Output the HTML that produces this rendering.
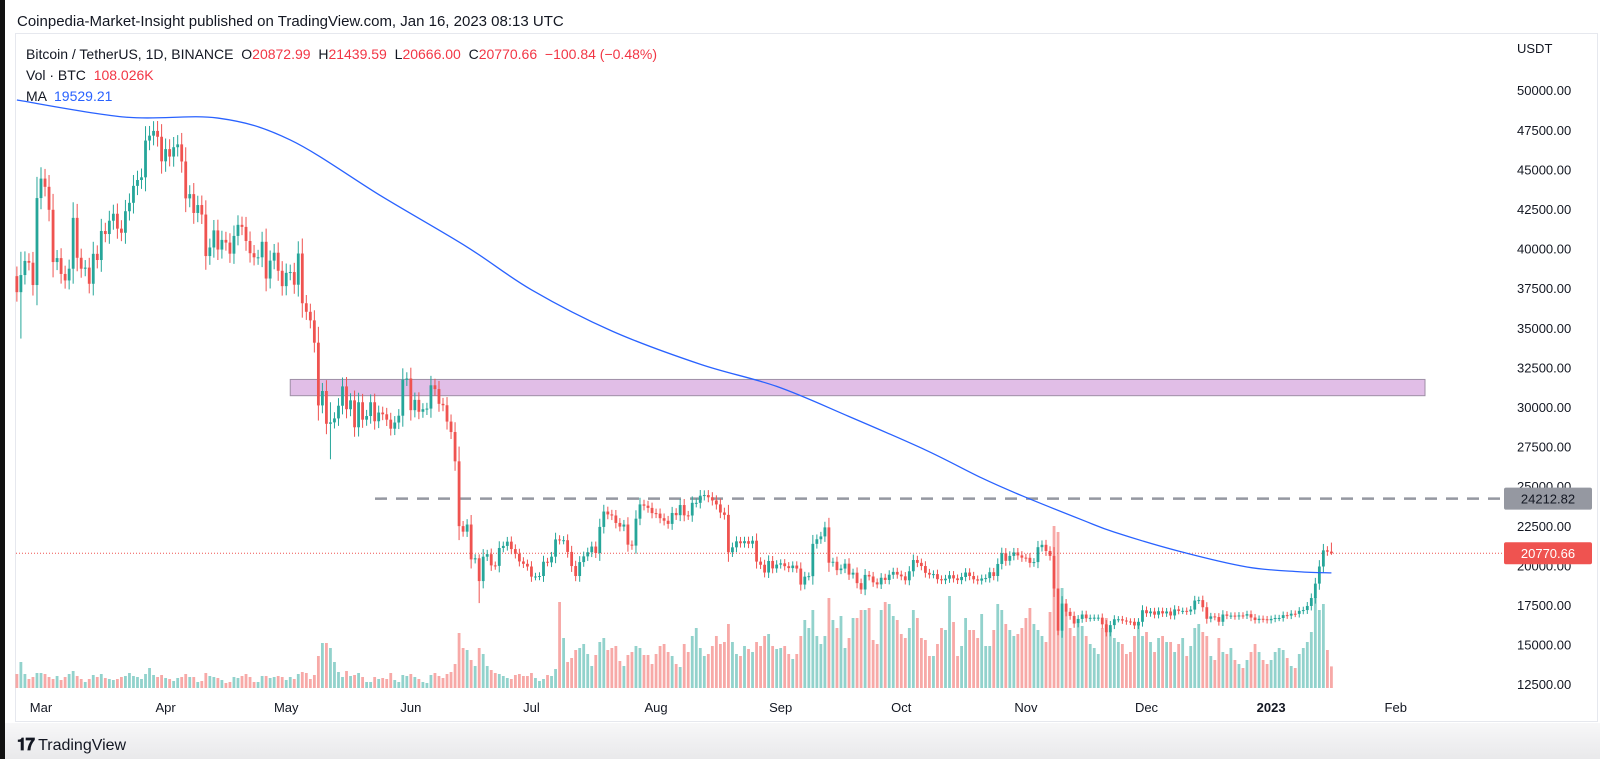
<!DOCTYPE html>
<html><head><meta charset="utf-8"><style>
html,body{margin:0;padding:0;background:#fff;width:1600px;height:759px;overflow:hidden;font-family:"Liberation Sans",sans-serif}
#frame{position:absolute;left:0;top:0;width:1600px;height:759px;background:#fff;border-left:5px solid #111;box-sizing:border-box}
#title{position:absolute;left:17px;top:13px;font-size:15px;color:#131722}
#panel{position:absolute;left:15px;top:33px;width:1583px;height:689px;border:1px solid #e6e8ee;box-sizing:border-box}
#footer{position:absolute;left:5px;top:723px;width:1595px;height:36px;background:linear-gradient(#f7f7f8,#e9e9eb)}
#logo{position:absolute;left:17px;top:735px;font-size:16px;color:#131722;font-weight:normal}
svg{position:absolute;left:0;top:0}
.leg{position:absolute;left:26px;font-size:14px;color:#131722;white-space:nowrap}
.r{color:#f23645}
</style></head><body>
<div id="frame"></div>
<div id="title">Coinpedia-Market-Insight published on TradingView.com, Jan 16, 2023 08:13 UTC</div>
<div id="panel"></div>
<svg id="chart" width="1600" height="759"></svg>
<div class="leg" style="top:46px">Bitcoin / TetherUS, 1D, BINANCE &nbsp;O<span class="r">20872.99</span> &nbsp;H<span class="r">21439.59</span> &nbsp;L<span class="r">20666.00</span> &nbsp;C<span class="r">20770.66</span> &nbsp;<span class="r">−100.84 (−0.48%)</span></div>
<div class="leg" style="top:67px">Vol · BTC &nbsp;<span class="r">108.026K</span></div>
<div class="leg" style="top:88px">MA &nbsp;<span style="color:#2962ff">19529.21</span></div>
<div id="footer"></div>
<div id="logo"><b style="font-size:17px;letter-spacing:-1px">𝟏𝟕</b> TradingView</div>
<script>
// Daily closes Feb 23 2022 .. Jan 16 2023
const closes=[37250,38330,39220,39110,37700,43190,
44420,43900,42450,39150,39400,38400,37990,38730,41940,39420,38730,38800,37780,39670,39280,41110,40920,41760,42200,41260,41000,42360,42890,43960,44330,44500,46820,47130,47430,47060,45510,
46280,45810,46400,46580,45500,43170,43440,42250,42750,42150,39530,40070,41150,39940,40550,40380,39680,40800,41500,41370,40480,39710,39450,39450,40430,38110,39240,39740,38600,37630,
38470,38520,37720,39690,36550,36010,35470,34060,30100,31010,28940,29030,29280,30080,31300,29860,30420,28720,30300,29200,29430,30300,29100,29650,29540,29200,28630,29020,29450,31720,31800,
29800,30450,29700,29860,29900,31370,31130,30200,30110,29080,28420,26570,22480,22130,22580,20380,20450,19010,20550,20710,20000,19970,21100,21230,21500,21030,20730,20250,20100,19930,
19290,19300,19330,20230,20190,20550,21640,21590,21590,20850,19960,19330,20210,20570,20830,21190,20780,22430,23400,23220,23150,22680,22450,22580,21310,21250,22950,23850,23770,23630,23300,
23270,22980,22820,22620,23310,23170,23810,23160,23150,23950,23950,24400,24440,24300,24100,23850,23340,23190,20830,21140,21520,21400,21530,21370,21560,20240,20040,19550,20280,19810,20050,
20130,19950,19830,19990,19800,18790,19290,19320,21360,21650,21830,22400,20170,20230,19700,19800,20110,19420,19540,18880,18480,19400,19300,18930,18800,19220,19080,19410,19590,19420,
19310,19060,19630,20340,20160,19960,19530,19420,19450,19130,19060,19160,19380,19180,19070,19270,19550,19330,19120,19040,19170,19200,19570,19330,20090,20770,20290,20600,20820,20630,20490,
20480,20160,20210,21150,21300,20910,20600,18540,15880,17590,17070,16810,16330,16620,16900,16660,16690,16700,16700,16280,15780,16230,16600,16600,16520,16460,16440,16210,16440,17170,
16980,17090,16890,17110,16970,17090,16840,17220,17130,17130,17090,17210,17780,17810,17360,16630,16780,16740,16440,16900,16820,16830,16780,16840,16830,16920,16710,16550,16630,16600,16540,
16620,16680,16680,16860,16830,16950,16940,17130,17180,17440,17940,18850,19930,20950,20870,20770];
const firstOpen=38260;
// Volume in K BTC
const volumes=[70,130,70,45,55,75,
75,70,55,45,60,40,55,70,85,60,45,30,45,65,55,70,50,45,40,45,55,60,75,60,55,45,70,100,65,55,65,
50,45,35,50,55,70,55,55,30,35,75,60,55,50,40,25,30,55,50,60,70,55,30,30,60,60,50,55,60,55,
40,55,45,70,80,75,45,65,160,225,225,200,130,80,55,85,60,65,75,55,30,30,55,45,50,45,75,40,30,65,60,
70,55,45,30,25,65,75,60,50,70,80,120,275,200,190,140,110,200,170,110,90,75,70,60,50,45,65,70,60,60,
75,50,35,45,65,60,95,430,250,130,150,190,200,220,170,110,165,230,250,190,200,210,135,110,165,180,210,200,165,165,120,
170,210,220,180,160,120,105,220,180,260,300,200,160,170,210,260,220,230,320,230,170,160,210,195,180,230,210,260,270,210,195,
200,210,170,145,170,260,340,300,390,260,220,260,450,340,300,360,200,250,350,350,390,390,400,240,220,390,430,420,360,340,
270,250,300,390,350,250,240,160,160,220,300,290,460,330,160,210,350,290,290,250,370,210,210,290,420,390,320,290,260,270,300,
350,400,320,290,260,230,380,810,780,500,380,300,260,320,310,260,220,200,170,300,350,300,250,230,220,170,180,260,320,260,
280,230,180,250,260,230,230,180,220,250,160,210,300,320,280,260,160,140,250,180,170,200,140,120,100,140,180,220,180,140,120,
140,180,200,190,150,110,100,170,200,230,280,455,390,420,190,108];
// Notable wick extremes [dayIndex, high, low]
const wickIdx=[1,78,115,259,327];
const wickHigh=[39800,30300,20700,18000,21440];
const wickLow=[34320,26700,17620,15590,20666];
// 200-day MA samples
const maIdx=[0,27,50,68,91,112,128,148,170,189,207,226,240,250,265,273,289,306,319,327];
const maVal=[49380,48300,48240,46860,43260,40100,37400,34800,32700,31300,29400,27290,25520,24400,22870,22100,20900,19900,19600,19530];
const priceTicks=[50000,47500,45000,42500,40000,37500,35000,32500,30000,27500,25000,22500,20000,17500,15000,12500];
const monthLabels=["Mar","Apr","May","Jun","Jul","Aug","Sep","Oct","Nov","Dec","2023","Feb"];
const monthIdx=[6,37,67,98,128,159,190,220,251,281,312,343];
const zoneTop=31740, zoneBottom=30714, zoneStartIdx=68, resistance=24212.82, lastPrice=20770.66;

const NS="http://www.w3.org/2000/svg";
const svg=document.getElementById('chart');
const X=i=>41+(i-6)*4.02;
const Y=p=>407+(30000-p)*0.01584;
const VB=688, VS=0.2;
function mk(tag,attrs,parent){const e=document.createElementNS(NS,tag);for(const k in attrs)e.setAttribute(k,attrs[k]);(parent||svg).appendChild(e);return e;}

const z=mk('rect',{x:X(zoneStartIdx),y:Y(zoneTop),width:1425-X(zoneStartIdx),height:Y(zoneBottom)-Y(zoneTop),fill:'#e1bee7',stroke:'#9e8fa6','stroke-width':1});


const n=closes.length;
for(let i=0;i<n;i++){
  const o=i?closes[i-1]:firstOpen,c=closes[i],up=c>=o;
  const h=volumes[i]*VS;
  const b=mk('rect',{x:X(i)-1.4,y:VB-h,width:2.8,height:h,fill:up?'rgba(38,166,154,0.5)':'rgba(239,83,80,0.5)'});
  
  
}
const dl=mk('line',{x1:375,x2:1504,y1:Y(resistance),y2:Y(resistance),stroke:'#9598a1','stroke-width':2.5,'stroke-dasharray':'12 9'});


const pl=mk('line',{x1:16,x2:1504,y1:Y(lastPrice),y2:Y(lastPrice),stroke:'#ef5350','stroke-width':1,'stroke-dasharray':'1 2'});


for(let i=0;i<n;i++){
  const o=i?closes[i-1]:firstOpen,c=closes[i],up=c>=o;
  let hi=Math.max(o,c)*1.012+Math.abs(c-o)*0.15, lo=Math.min(o,c)*0.988-Math.abs(c-o)*0.15;
  const k=wickIdx.indexOf(i); if(k>=0){hi=Math.max(wickHigh[k],Math.max(o,c));lo=Math.min(wickLow[k],Math.min(o,c));}
  const col=up?'#26a69a':'#ef5350';
  const w=mk('line',{x1:X(i),x2:X(i),y1:Y(hi),y2:Y(lo),stroke:col,'stroke-width':1});
  
  
  const top=Y(Math.max(o,c)),bh=Math.max(1,Y(Math.min(o,c))-top);
  const r=mk('rect',{x:X(i)-1.4,y:top,width:2.8,height:bh,fill:col});
  
  
}
let d='';const pts=maIdx.map((t,j)=>[X(t),Y(maVal[j])]);
d='M'+pts[0][0]+','+pts[0][1];
for(let j=0;j<pts.length-1;j++){const p0=pts[j-1]||pts[j],p1=pts[j],p2=pts[j+1],p3=pts[j+2]||p2;
 d+=` C${p1[0]+(p2[0]-p0[0])/6},${p1[1]+(p2[1]-p0[1])/6} ${p2[0]-(p3[0]-p1[0])/6},${p2[1]-(p3[1]-p1[1])/6} ${p2[0]},${p2[1]}`;}
const ma=mk('path',{d:d,fill:'none',stroke:'#2962ff','stroke-width':1.3});


const usd=mk('text',{x:1517,y:53,'font-size':13,fill:'#131722','font-family':'Liberation Sans, sans-serif'});usd.textContent='USDT';


priceTicks.forEach(p=>{const t=mk('text',{x:1517,y:Y(p)+5,'font-size':13,fill:'#131722','font-family':'Liberation Sans, sans-serif'});t.textContent=p.toFixed(2);
 
 });
monthLabels.forEach((m,j)=>{const t=mk('text',{x:X(monthIdx[j]),y:712,'font-size':13,fill:'#131722','text-anchor':'middle','font-weight':m==='2023'?'bold':'normal','font-family':'Liberation Sans, sans-serif'});t.textContent=m;
 
 });
function tag(p,bg,fg,name){const g=mk('g',{});
 mk('rect',{x:1504,y:Y(p)-11,width:88,height:22,rx:2,fill:bg},g);
 const t=mk('text',{x:1548,y:Y(p)+5,'font-size':13,fill:fg,'text-anchor':'middle','font-family':'Liberation Sans, sans-serif'},g);t.textContent=p.toFixed(2);}
tag(resistance,'#9598a1','#131722','resistance-price-tag');
tag(lastPrice,'#ef5350','#ffffff','last-price-tag');
</script>
</body></html>
